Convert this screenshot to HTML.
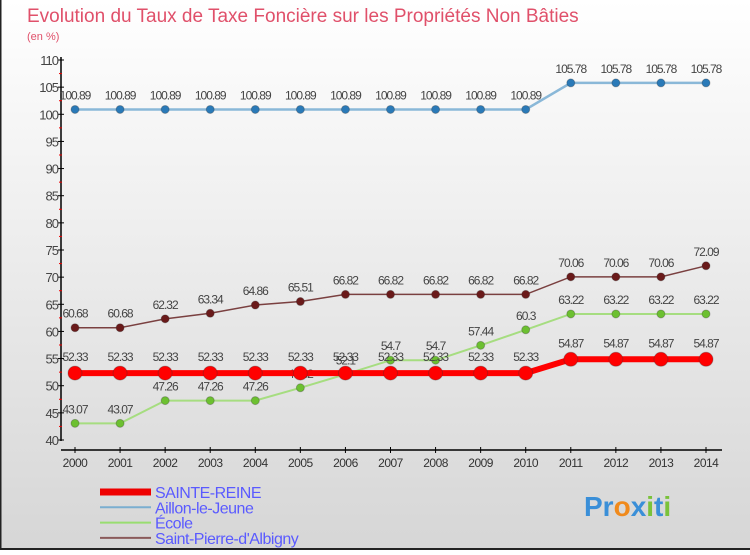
<!DOCTYPE html>
<html><head><meta charset="utf-8"><style>
body{margin:0;width:750px;height:550px;overflow:hidden;font-family:"Liberation Sans",sans-serif}
</style></head><body>
<svg width="750" height="550" xmlns="http://www.w3.org/2000/svg" id="svg">
<defs><linearGradient id="bg" x1="0" y1="0" x2="0" y2="1"><stop offset="0" stop-color="#ffffff"/><stop offset="1" stop-color="#d6d6d6"/></linearGradient></defs>
<rect x="0" y="0" width="750" height="550" fill="url(#bg)"/>
<rect x="0.5" y="-2" width="751" height="551" fill="none" stroke="#222" stroke-width="2"/>
<text x="27" y="22" font-size="19" fill="#e0506a">Evolution du Taux de Taxe Foncière sur les Propriétés Non Bâties</text>
<text x="27" y="40" font-size="11" fill="#e0506a">(en %)</text>
<g id="axes"></g>
<g id="series"></g>
<g id="legend"></g>
<g font-size="28" font-weight="bold">
<text x="584" y="516"><tspan fill="#3a8fd8">Pr</tspan><tspan fill="#f08a1c">o</tspan><tspan fill="#3a8fd8">x</tspan><tspan fill="#7ac23a">i</tspan><tspan fill="#3a8fd8">t</tspan><tspan fill="#7ac23a">i</tspan></text>
</g>
</svg>
<script>
const years=[2000,2001,2002,2003,2004,2005,2006,2007,2008,2009,2010,2011,2012,2013,2014];
const sainteReine=[52.33,52.33,52.33,52.33,52.33,52.33,52.33,52.33,52.33,52.33,52.33,54.87,54.87,54.87,54.87];
const aillon=[100.89,100.89,100.89,100.89,100.89,100.89,100.89,100.89,100.89,100.89,100.89,105.78,105.78,105.78,105.78];
const ecole=[43.07,43.07,47.26,47.26,47.26,49.62,52.1,54.7,54.7,57.44,60.3,63.22,63.22,63.22,63.22];
const stPierre=[60.68,60.68,62.32,63.34,64.86,65.51,66.82,66.82,66.82,66.82,66.82,70.06,70.06,70.06,72.09];
const yTicks=[40,45,50,55,60,65,70,75,80,85,90,95,100,105,110];
const NS="http://www.w3.org/2000/svg";
const xs=i=>75+i*(706-75)/14;
const ys=v=>440-(v-40)*(380/70);
function mk(tag,attrs,parent,txt){const e=document.createElementNS(NS,tag);for(const k in attrs)e.setAttribute(k,attrs[k]);if(txt!==undefined)e.textContent=txt;parent.appendChild(e);return e;}
const ax=document.getElementById('axes');
let e=mk('line',{x1:61,y1:57,x2:61,y2:441,stroke:'#000','stroke-width':1.5},ax);

e=mk('line',{x1:61,y1:450,x2:722,y2:450,stroke:'#000','stroke-width':1.5},ax);

yTicks.forEach((t,i)=>{
  const y=ys(t);
  mk('line',{x1:58,y1:y,x2:64,y2:y,stroke:'#000'},ax);
  if(i<yTicks.length-1) mk('line',{x1:59,y1:ys(t+2.5),x2:62,y2:ys(t+2.5),stroke:'#e00'},ax);
  const l=mk('text',{x:58,y:y+5,'font-size':13,fill:'#444','text-anchor':'end','letter-spacing':'-1'},ax,String(t));
  
});
years.forEach((yr,i)=>{
  const x=xs(i);
  mk('line',{x1:x,y1:447,x2:x,y2:453,stroke:'#000'},ax);
  const l=mk('text',{x:x,y:467,'font-size':12,fill:'#333','text-anchor':'middle','letter-spacing':'-0.5'},ax,String(yr));
  
});
const sg=document.getElementById('series');
function draw(name,vals,color,dot,w,r,lblDy){
  const g=mk('g',{},sg);
  
  const pts=vals.map((v,i)=>xs(i)+','+ys(v)).join(' ');
  const p=mk('polyline',{points:pts,fill:'none',stroke:color,'stroke-width':w},g);
  
  vals.forEach((v,i)=>{
    const c=mk('circle',{cx:xs(i),cy:ys(v),r:r,fill:dot,stroke:'#333','stroke-opacity':0.3},g);
    
    const t=mk('text',{x:xs(i),y:ys(v)+lblDy,'font-size':12,fill:'#444','text-anchor':'middle','letter-spacing':'-1'},g,String(v));
    
  });
}
draw('aillon',aillon,'#8ab8d8','#2a7ab8',2.5,4,-10);
draw('ecole',ecole,'#a6dd80','#6cc030',2,4,-10);
draw('st-pierre',stPierre,'#7a4040','#6a1a1a',1.5,4,-10);
draw('sainte-reine',sainteReine,'#ff0000','#ff0000',6,7,-12);
const lg=document.getElementById('legend');
const items=[['SAINTE-REINE','#ee0000',7],['Aillon-le-Jeune','#7aaed0',2],['École','#99dd70',2],["Saint-Pierre-d'Albigny",'#8a5a5a',2]];
items.forEach((it,i)=>{
  const y=492+i*15.3;
  const g=mk('g',{},lg);
  
  mk('line',{x1:100,y1:y,x2:151,y2:y,stroke:it[1],'stroke-width':it[2]},g);
  mk('text',{x:155,y:y+6,'font-size':16,fill:'#5a5aff','letter-spacing':'-0.5'},g,it[0]);
});
</script>
</body></html>
